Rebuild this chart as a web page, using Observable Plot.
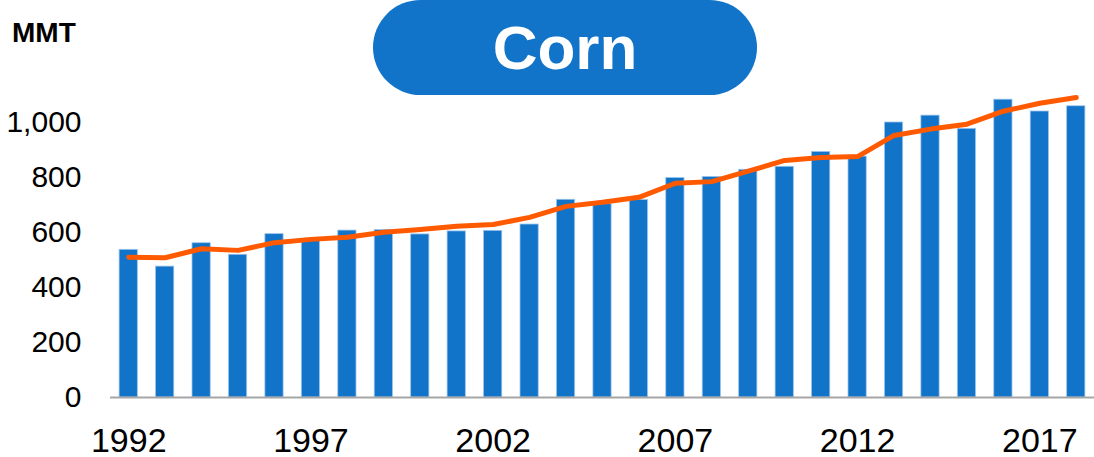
<!DOCTYPE html>
<html>
<head>
<meta charset="utf-8">
<script src="https://cdn.jsdelivr.net/npm/d3@7"></script>
<script src="https://cdn.jsdelivr.net/npm/@observablehq/plot@0.6"></script>
<style>
  html, body { margin: 0; padding: 0; background: #fff; }
  #wrap { position: relative; width: 1094px; height: 457px; font-family: "Liberation Sans", Arial, sans-serif; }
  #pill { position: absolute; left: 373px; top: 0px; width: 384px; height: 95px; border-radius: 47.5px; background: #1274C9;
          color: #fff; font-weight: bold; font-size: 62px; display: flex; align-items: center; justify-content: center; line-height: 1; }
  #unit { position: absolute; left: 12px; top: 19px; font-weight: bold; font-size: 28px; color: #000; line-height: 1; }
</style>
</head>
<body>
<div id="wrap"><div id="chart"></div><div id="pill">Corn</div><div id="unit">MMT</div></div>
<script>
const years = [1992, 1993, 1994, 1995, 1996, 1997, 1998, 1999, 2000, 2001, 2002, 2003, 2004, 2005, 2006, 2007, 2008, 2009, 2010, 2011, 2012, 2013, 2014, 2015, 2016, 2017, 2018];
const production = [537, 476, 561, 519, 594, 575, 607, 609, 593, 604, 606, 629, 719, 703, 718, 798, 802, 828, 839, 893, 876, 1000, 1025, 977, 1083, 1040, 1059];
const consumption = [510, 508, 541, 535, 563, 575, 583, 601, 611, 623, 629, 655, 695, 710, 728, 779, 785, 823, 862, 873, 876, 953, 976, 994, 1041, 1070, 1091];
const yTicks = [0, 200, 400, 600, 800, 1000];
const xTicks = [1992, 1997, 2002, 2007, 2012, 2017];

const rows = years.map((year, i) => ({year, production: production[i], consumption: consumption[i]}));

const chart = Plot.plot({
  width: 1094,
  height: 457,
  marginTop: 94.5,
  marginBottom: 60,
  marginLeft: 110,
  marginRight: 0,
  style: {fontFamily: '"Liberation Sans", Arial, sans-serif', color: "#000", background: "#fff", overflow: "visible"},
  x: {type: "band", domain: years, paddingInner: 0.5, paddingOuter: 0.25, round: false},
  y: {domain: [0, 1100]},
  marks: [
    Plot.barY(rows, {x: "year", y: "production", fill: "#1274C9", stroke: "#9cc4ea", strokeWidth: 0.8}),
    Plot.ruleY([0], {stroke: "#a6a6a6", strokeWidth: 2}),
    Plot.line(rows, {x: "year", y: "consumption", stroke: "#FF5A00", strokeWidth: 5, strokeLinejoin: "round", strokeLinecap: "round"}),
    Plot.axisY({ticks: yTicks, tickSize: 0, tickPadding: 29, fontSize: 30, label: null}),
    Plot.axisX({ticks: xTicks, tickSize: 0, tickPadding: 30, fontSize: 34, label: null, tickFormat: d => String(d)})
  ]
});
document.getElementById("chart").appendChild(chart);
</script>
</body>
</html>
